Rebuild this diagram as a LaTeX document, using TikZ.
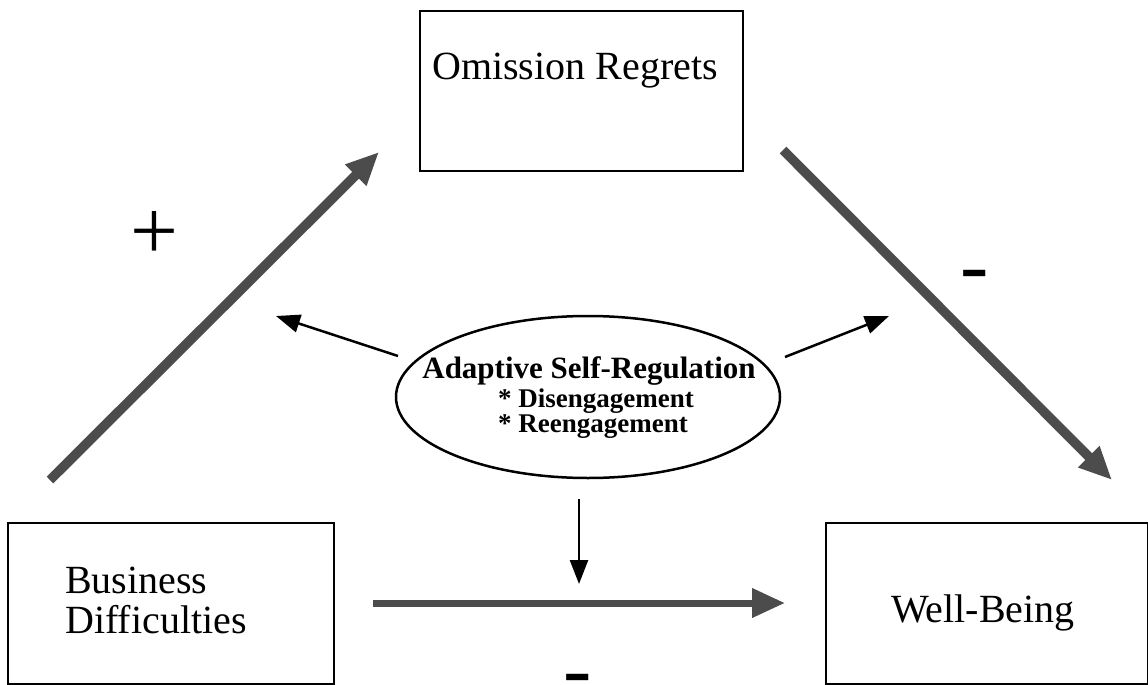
\documentclass[tikz,border=0pt]{standalone}
\usepackage{fontspec}
\setmainfont{Liberation Serif}
\usetikzlibrary{arrows.meta,shapes.geometric}
\definecolor{thickgray}{gray}{0.3}
\tikzset{
  box/.style={draw=black, line width=2pt, inner sep=0pt, anchor=north west},
  boxlabel/.style={font=\fontsize{40}{46}\selectfont, inner sep=0pt, anchor=base},
  ovaltitle/.style={font=\bfseries\fontsize{31}{36}\selectfont, inner sep=0pt, anchor=base},
  ovalitem/.style={font=\bfseries\fontsize{27}{32}\selectfont, inner sep=0pt, anchor=base west},
  bigarrow/.style={draw=thickgray, line width=9.5pt, -{Triangle[length=33pt,width=28pt]}},
  smallarrow/.style={draw=black, line width=2.5pt, -{Triangle[length=24pt,width=18pt]}},
  sign/.style={font=\fontsize{85}{90}\selectfont, inner sep=0pt, anchor=base},
}
\begin{document}
\begin{tikzpicture}[x=1pt,y=-1pt]
\path[fill=white, use as bounding box] (0,0) rectangle (1148,685);

% boxes
\node[box, minimum width=323pt, minimum height=160pt] (omit) at (419,10) {};
\node[box, minimum width=326pt, minimum height=161pt] (bus) at (7,522) {};
\node[box, minimum width=322pt, minimum height=161pt] (well) at (825,522) {};

% box labels
\node[boxlabel] (omitlabel) at (575,79) {Omission Regrets};
\node[boxlabel, anchor=base west] (buslabel1) at (65,593) {Business};
\node[boxlabel, anchor=base west] (buslabel2) at (65,633) {Difficulties};
\node[boxlabel] (welllabel) at (983,622) {Well-Being};

% moderator ellipse
\node[draw=black, line width=2.5pt, ellipse, minimum width=384pt, minimum height=162pt, inner sep=0pt] (asr) at (588,397) {};
\node[ovaltitle] (asrtitle) at (589,378) {Adaptive Self-Regulation};
\node[ovalitem] (asritem1) at (498,407) {* Disengagement};
\node[ovalitem] (asritem2) at (498,432) {* Reengagement};

% connector end points
\coordinate (busout) at (50,480);
\coordinate (omitin) at (379,152);
\coordinate (omitout) at (783,150);
\coordinate (wellin) at (1112,480);
\coordinate (busright) at (373,603);
\coordinate (wellleft) at (785,603);
\coordinate (asrleft) at (398,356);
\coordinate (modleft) at (276,316);
\coordinate (asrright) at (785,357);
\coordinate (modright) at (889,316);
\coordinate (asrbottom) at (579,499);
\coordinate (moddown) at (579,584);

% thick paths
\draw[bigarrow] (busout) -- (omitin);
\draw[bigarrow] (omitout) -- (wellin);
\draw[bigarrow, line width=7pt] (busright) -- (wellleft);

% moderation arrows
\draw[smallarrow] (asrleft) -- (modleft);
\draw[smallarrow] (asrright) -- (modright);
\draw[smallarrow] (asrbottom) -- (moddown);

% signs
\node[sign] (plus) at (154,259) {+};
\node[sign] (minusright) at (975,293) {-};
\node[sign] (minusbottom) at (578,697) {-};
\end{tikzpicture}
\end{document}
